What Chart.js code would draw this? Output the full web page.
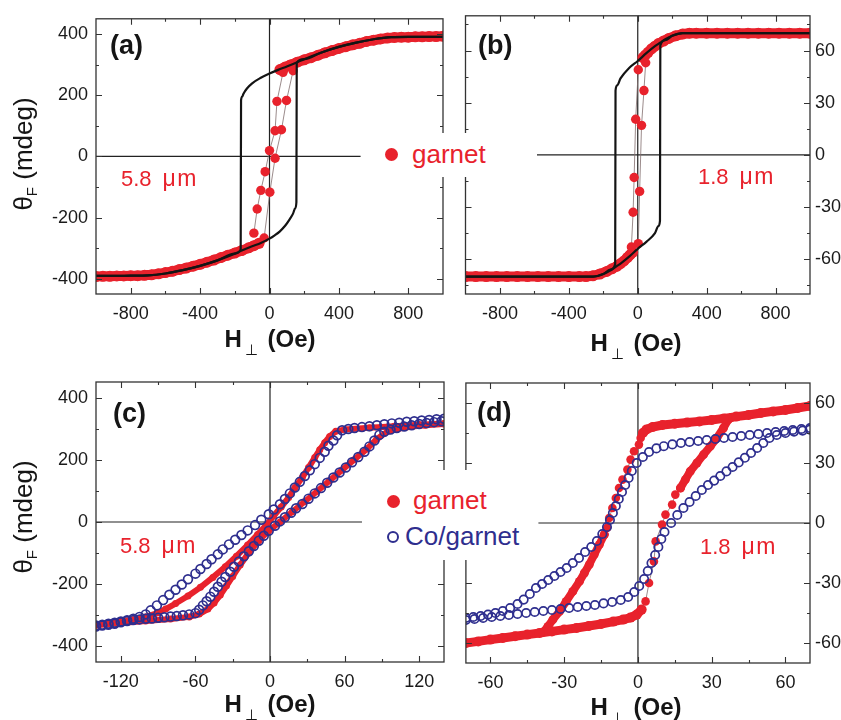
<!DOCTYPE html>
<html>
<head>
<meta charset="utf-8">
<script src="https://cdn.jsdelivr.net/npm/chart.js@4.4.1/dist/chart.umd.min.js"></script>
<style>
  body { margin: 0; background: #fff; font-family: "Liberation Sans", Arial, sans-serif; }
  #fig { position: relative; width: 841px; height: 720px; overflow: hidden; background: #fff; }
  #fig canvas { position: absolute; }
  .txt { position: absolute; line-height: 1; white-space: nowrap; }
  .plab { font-size: 27px; font-weight: bold; color: #151515; }
  .thk { font-size: 22px; color: #e8222c; }
  .thk span { font-size: 23px; letter-spacing: 1.5px; margin-left: 11px; }
  .xt { font-size: 24px; font-weight: bold; color: #151515; transform: translateX(-50%); }
  .xt sub { font-size: 15px; font-weight: normal; vertical-align: -8px; margin-left: 3px; margin-right: 3px; }
  .yt { font-size: 26px; color: #151515; transform: translate(-50%, -50%) rotate(-90deg); }
  .yt sub { font-size: 15px; vertical-align: -5px; }
  .legbox { position: absolute; background: #fff; }
  .leg { font-size: 26px; }
  .dot { position: absolute; border-radius: 50%; box-sizing: border-box; }
</style>
</head>
<body>
<div id="fig">
  <canvas id="ca" width="460" height="360" style="left:0;top:0"></canvas>
  <canvas id="cb" width="381" height="360" style="left:460px;top:0"></canvas>
  <canvas id="cc" width="460" height="360" style="left:0;top:360px"></canvas>
  <canvas id="cd" width="381" height="360" style="left:460px;top:360px"></canvas>

  <div class="txt plab" style="left:110px;top:32px">(a)</div>
  <div class="txt plab" style="left:478px;top:32px">(b)</div>
  <div class="txt plab" style="left:113px;top:400px">(c)</div>
  <div class="txt plab" style="left:477px;top:399px">(d)</div>

  <div class="txt thk" style="left:121px;top:167px">5.8<span>μm</span></div>
  <div class="txt thk" style="left:698px;top:165px">1.8<span>μm</span></div>
  <div class="txt thk" style="left:120px;top:534px">5.8<span>μm</span></div>
  <div class="txt thk" style="left:700px;top:535px">1.8<span>μm</span></div>

  <div class="txt xt" style="left:270px;top:327px">H<sub>⊥</sub> (Oe)</div>
  <div class="txt xt" style="left:636px;top:331px">H<sub>⊥</sub> (Oe)</div>
  <div class="txt xt" style="left:270px;top:692px">H<sub>⊥</sub> (Oe)</div>
  <div class="txt xt" style="left:636px;top:695px">H<sub>⊥</sub> (Oe)</div>

  <div class="txt yt" style="left:24px;top:154px">θ<sub>F</sub> (mdeg)</div>
  <div class="txt yt" style="left:24px;top:517px">θ<sub>F</sub> (mdeg)</div>

  <div class="legbox" style="left:378px;top:133px;width:112px;height:44px">
    <div class="dot" style="left:7px;top:15px;width:13px;height:13px;background:#e8222c"></div>
    <div class="txt leg" style="left:34px;top:8px;color:#e8222c">garnet</div>
  </div>
  <div class="legbox" style="left:376px;top:470px;width:158px;height:90px">
    <div class="dot" style="left:11px;top:25px;width:13px;height:13px;background:#e8222c"></div>
    <div class="txt leg" style="left:37px;top:17px;color:#e8222c">garnet</div>
    <div class="dot" style="left:11px;top:61px;width:12px;height:12px;border:2px solid #2e2e8e"></div>
    <div class="txt leg" style="left:29px;top:53px;color:#2e2e8e">Co/garnet</div>
  </div>
</div>

<script>
// ---- (a) garnet 5.8 um, wide field range ----
const aTicks = [-800, -400, 0, 400, 800];
const aMinor = [-600, -200, 200, 600];
const aYTicks = [-400, -200, 0, 200, 400];
const aYMinor = [-300, -100, 100, 300];
// model loop (black), both branches listed with rising field
const aLoopUpH = [-1000, -900, -800, -700, -600, -500, -400, -300, -200, -160, -100, -50, 0, 30, 60, 90, 117, 135, 148, 155, 157, 200, 300, 400, 500, 600, 700, 800, 900, 1000];
const aLoopUpY = [-391, -391, -390, -389, -383, -372, -358, -340, -318, -308, -294, -283, -269, -258, -245, -227, -205, -188, -170, -150, 306, 318, 340, 358, 372, 383, 390, 391, 391, 391];
const aLoopDownH = [-1000, -900, -800, -700, -600, -500, -400, -300, -200, -166, -164, -158, -150, -130, -100, -50, 0, 50, 100, 160, 200, 300, 400, 500, 600, 700, 800, 900, 1000];
const aLoopDownY = [-391, -391, -390, -389, -383, -372, -358, -340, -318, -304, 183, 195, 205, 222, 239, 257, 271, 283, 294, 308, 318, 340, 358, 372, 383, 390, 391, 391, 391];
// measured points (red)
const aBandLowH = [-1000, -960, -920, -880, -840, -800, -760, -720, -680, -640, -600, -560, -520, -480, -440, -400, -360, -320, -280, -240, -200, -160, -120, -90, -60];
const aBandLowY = [-393, -392, -392, -391, -391, -390, -390, -389, -387, -384, -380, -376, -370, -365, -359, -353, -346, -339, -331, -323, -316, -308, -299, -292, -284];
const aBandHighH = [60, 90, 120, 160, 200, 240, 280, 320, 360, 400, 440, 480, 520, 560, 600, 640, 680, 720, 760, 800, 840, 880, 920, 960, 1000];
const aBandHighY = [284, 292, 299, 308, 316, 323, 331, 339, 346, 353, 359, 365, 370, 376, 380, 384, 387, 389, 390, 390, 391, 391, 392, 392, 393];
const aSwDownH = [-31, 2, 32, 69, 98, 136];
const aSwDownY = [-267, -117, -6, 87, 183, 280];
const aSwUpH = [-90, -71, -50, -25, 0, 32, 43, 78];
const aSwUpY = [-251, -172, -111, -50, 19, 84, 180, 275];
const aZeroH = [-1000, 525];

// ---- (b) garnet 1.8 um ----
const bYTicks = [-60, -30, 0, 30, 60];
const bYMinor = [-75, -45, -15, 15, 45, 75];
const bLoopUpH = [-1000, -600, -260, -200, -160, -130, -100, -50, 0, 50, 100, 120, 129, 131, 160, 200, 260, 600, 1000];
const bLoopUpY = [-70, -70, -70, -68.5, -66.5, -64.5, -62.5, -58.5, -54, -50, -45, -41, -38, 63, 66, 68.5, 70, 70, 70];
const bLoopDownH = [-1000, -600, -260, -200, -160, -131, -129, -120, -100, -50, 0, 50, 100, 130, 160, 200, 260, 600, 1000];
const bLoopDownY = [-70, -70, -70, -68.5, -66, -63, 37, 40, 44, 50, 54, 58.5, 62.5, 64.5, 66.5, 68.5, 70, 70, 70];
const bBandLowH = [-1000, -940, -880, -820, -760, -700, -640, -580, -520, -460, -400, -340, -300, -260, -220, -180, -150, -120, -100, -80, -60, -45, -30];
const bBandLowY = [-70, -70, -70, -70, -70, -70, -70, -70, -70, -70, -70, -70, -70, -69.5, -68.5, -67, -65.5, -64, -62.5, -61, -59, -57.5, -56];
const bBandHighH = [30, 45, 60, 80, 100, 120, 150, 180, 220, 260, 300, 340, 400, 460, 520, 580, 640, 700, 760, 820, 880, 940, 1000];
const bBandHighY = [56, 57.5, 59, 61, 62.5, 64, 65.5, 67, 68.5, 69.5, 70, 70, 70, 70, 70, 70, 70, 70, 70, 70, 70, 70, 70];
const bSwDownH = [-37, -27, -21, -12, 3];
const bSwDownY = [-53, -33, -13, 20.5, 49];
const bSwUpH = [3, 11, 22, 36, 46];
const bSwUpY = [-51, -21, 17, 37, 53];
const bZeroH = [-585, 1000];

// ---- (c) 5.8 um, garnet vs Co/garnet ----
const cTicks = [-120, -60, 0, 60, 120];
const cMinor = [-90, -30, 30, 90];
const cRedDownH = [-140, -120, -100, -90, -84, -76, -66, -56, -46, -36, -27, -18, -10, -3, 3, 9, 15, 20, 26, 31, 36, 40, 44, 48, 53, 60, 80, 100, 120, 140];
const cRedDownY = [-330, -320, -305, -292, -280, -262, -238, -210, -178, -144, -110, -74, -40, -10, 20, 48, 79, 110, 143, 175, 207, 232, 255, 275, 292, 297, 303, 308, 313, 317];
const cRedUpH = [-140, -120, -100, -80, -65, -57, -50, -45, -40, -35, -30, -24, -17, -9, -1, 8, 18, 28, 38, 48, 58, 68, 78, 86, 95, 110, 125, 140];
const cRedUpY = [-332, -325, -318, -312, -305, -296, -280, -260, -235, -205, -175, -138, -98, -60, -28, 0, 33, 66, 99, 133, 167, 201, 235, 267, 292, 305, 311, 315];
const cBlueDownH = [-140, -135, -130, -125, -120, -115, -110, -105, -100, -96, -91, -86, -81, -76, -71, -66, -60, -56, -51, -47, -42, -38, -33, -28, -23, -18, -12, -7, -1, 3, 8, 12, 16, 20, 24, 28, 32, 36, 40, 44, 47, 51, 54, 58, 63, 68, 74, 80, 86, 92, 98, 104, 110, 116, 122, 128, 134, 140];
const cBlueDownY = [-333, -330, -327, -324, -320, -316, -311, -305, -297, -284, -268, -251, -234, -218, -201, -184, -166, -151, -135, -120, -104, -88, -72, -57, -42, -27, -10, 7, 25, 40, 57, 74, 92, 111, 129, 148, 166, 186, 206, 226, 245, 262, 279, 295, 299, 302, 305, 308, 311, 314, 317, 319, 322, 324, 326, 328, 330, 332];
const cBlueUpH = [-140, -135, -130, -125, -120, -115, -110, -105, -100, -95, -90, -85, -80, -75, -70, -65, -60, -57, -54, -51, -48, -45, -42, -39, -36, -32, -29, -25, -21, -17, -13, -9, -5, -1, 4, 8, 12, 17, 21, 26, 31, 36, 41, 46, 51, 56, 61, 66, 71, 76, 80, 84, 88, 92, 97, 102, 108, 114, 120, 126, 132, 138];
const cBlueUpY = [-336, -333, -330, -327, -322, -318, -315, -313, -311, -310, -308, -306, -304, -302, -300, -297, -293, -282, -268, -255, -240, -224, -208, -192, -177, -160, -144, -127, -110, -94, -77, -60, -44, -28, -12, 2, 15, 30, 44, 58, 75, 92, 109, 126, 143, 159, 175, 192, 209, 226, 243, 262, 280, 290, 297, 302, 307, 311, 315, 318, 321, 324];
const cZeroH = [-140, 74];

// ---- (d) 1.8 um, garnet vs Co/garnet ----
const dTicks = [-60, -30, 0, 30, 60];
const dMinor = [-45, -15, 15, 45];
const dRedTopH = [70, 65, 60, 55, 50, 45, 40, 35, 30, 25, 20, 15, 10, 6, 3.5, 2];
const dRedTopY = [58.5, 57.5, 56.5, 55.8, 55, 54, 53.2, 52.3, 51.5, 50.8, 50.2, 49.6, 49, 48, 46.8, 45];
const dRedFallH = [1.1, 0.4, -1.6, -3, -4.3, -6.3, -7.7, -9, -10.4, -11.7, -12.6, -13.7];
const dRedFallY = [42.5, 39.2, 35.9, 31.7, 26.7, 21.7, 17.5, 12.5, 7.5, 2.5, -2.5, -5.8];
const dRedFallBandH = [-13.7, -15.7, -17.8, -19.8, -21.8, -23.8, -26.5, -29.2, -31.9, -34.6, -36.6, -38.5];
const dRedFallBandY = [-5.8, -10.8, -15.8, -20.8, -25, -29.2, -34.2, -39.2, -44.2, -48.3, -51.7, -54.5];
const dRedBottomH = [-70, -65, -60, -55, -50, -45, -40, -35, -30, -25, -20, -15, -10, -6, -3, -0.5, 1.5];
const dRedBottomY = [-60, -59.2, -58.3, -57.5, -56.6, -55.8, -55, -54.2, -53.3, -52.5, -51.5, -50.5, -49.3, -48.3, -47.3, -45.8, -43.3];
const dRedRiseH = [1.5, 3.1, 4.5, 6.5, 7.2, 9.8, 11.2, 13.9, 15.2, 17.3];
const dRedRiseY = [-43.3, -39.2, -30, -19.2, -9.2, -0.8, 4.2, 9.2, 14.2, 17.5];
const dRedRiseBandH = [17.3, 19.3, 21.3, 24, 26.7, 29.4, 32.1, 34.8, 36.8, 38];
const dRedRiseBandY = [17.5, 21.7, 25.9, 30, 34.2, 38.3, 42.5, 47.5, 51.7, 52.7];
const dBlueDownH = [70, 66.5, 63, 59.5, 56, 52.5, 49, 45.5, 42, 38.5, 35, 31.5, 28, 24.5, 21, 17.5, 14, 10.5, 7.5, 4.5, 2, -0.5, -2.5, -3.8, -5.2, -6.5, -7.8, -9, -10.2, -11.4, -12.6, -14.5, -16.7, -19, -21.5, -24, -26.5, -29, -31.5, -34, -36.5, -39, -41.5, -44, -46.5, -49, -52, -55, -58, -61, -64, -67, -70];
const dBlueDownY = [47.5, 47, 46.5, 46, 45.5, 45, 44.5, 44, 43.5, 43, 42.5, 42, 41.5, 41, 40.5, 40, 39.3, 38.4, 37.3, 35.5, 33, 30, 26, 22.5, 19, 15.5, 12, 8.5, 5, 1.5, -2, -5.5, -9, -12, -14.5, -17.5, -20, -22.5, -24.5, -26.5, -28.5, -30.5, -32.5, -35.5, -38.3, -40.5, -42.5, -44, -45, -45.8, -46.5, -47, -47.5];
const dBlueUpH = [-70, -66.5, -63, -59.5, -56, -52.5, -49, -45.5, -42, -38.5, -35, -31.5, -28, -24.5, -21, -17.5, -14, -10.5, -7, -4, -1.5, 0.5, 2.5, 4, 5.5, 7, 8.3, 9.5, 10.8, 13.5, 16, 18.5, 21, 23.5, 26, 28.5, 31, 33.5, 36, 38.5, 41, 43.5, 46, 48.5, 51, 53.5, 56.5, 60, 63.5, 67, 70];
const dBlueUpY = [-48.5, -48, -47.5, -47, -46.5, -46, -45.5, -45, -44.5, -44, -43.5, -43, -42.5, -42, -41.5, -41, -40.2, -39.5, -38.5, -37, -34.5, -31.5, -28, -24, -20, -16, -12, -8, -4.5, 0, 4, 7.5, 10.5, 13.5, 16.5, 19, 21.2, 23.5, 25.8, 28, 30.3, 32.6, 35, 37.5, 40, 42.5, 44, 45, 45.7, 46.2, 46.7];
const dZeroH = [-40.5, 70];

const RED = '#e8222c';
const BLUE = '#2e2e8e';
const BLACK = '#141414';
const FONT = '"Liberation Sans", Arial, sans-serif';

const pts = (hs, ys) => hs.map((h, i) => ({ x: h, y: ys[i] }));

// box with inward ticks on all four sides
const framePlugin = {
  id: 'frame',
  afterDatasetsDraw(chart, args, o) {
    const { ctx, chartArea: a } = chart;
    const sx = chart.scales.x, sy = chart.scales.y;
    ctx.save();
    ctx.strokeStyle = '#333';
    ctx.lineWidth = 1.3;
    ctx.strokeRect(a.left, a.top, a.right - a.left, a.bottom - a.top);
    ctx.lineWidth = 1.1;
    ctx.beginPath();
    const xt = (vals, len) => vals.forEach(v => {
      const p = Math.round(sx.getPixelForValue(v)) + 0.5;
      ctx.moveTo(p, a.bottom); ctx.lineTo(p, a.bottom - len);
      ctx.moveTo(p, a.top); ctx.lineTo(p, a.top + len);
    });
    const yt = (vals, len) => vals.forEach(v => {
      const p = Math.round(sy.getPixelForValue(v)) + 0.5;
      ctx.moveTo(a.left, p); ctx.lineTo(a.left + len, p);
      ctx.moveTo(a.right, p); ctx.lineTo(a.right - len, p);
    });
    xt(o.xMajor, 6); xt(o.xMinor, 3);
    yt(o.yMajor, 6); yt(o.yMinor, 3);
    ctx.stroke();
    ctx.restore();
  }
};

function zeroLines(hs, ymin, ymax) {
  const common = { showLine: true, pointRadius: 0, borderColor: '#222', borderWidth: 1.2, order: 20 };
  return [
    Object.assign({ data: pts(hs, [0, 0]) }, common),
    Object.assign({ data: pts([0, 0], [ymin, ymax]) }, common)
  ];
}
function band(hs, ys, width, order) {
  return { data: pts(hs, ys), showLine: true, borderColor: RED, borderWidth: width,
    borderCapStyle: 'round', borderJoinStyle: 'round', pointRadius: width / 2 + 0.5,
    pointBackgroundColor: RED, pointBorderWidth: 0, order: order };
}
function dots(hs, ys, r, order) {
  return { data: pts(hs, ys), showLine: true, borderColor: 'rgba(130,110,110,0.8)', borderWidth: 1,
    pointRadius: r, pointBackgroundColor: RED, pointBorderWidth: 0, order: order };
}
function loop(hs, ys) {
  return { data: pts(hs, ys), showLine: true, borderColor: BLACK, borderWidth: 2.2,
    cubicInterpolationMode: 'monotone', pointRadius: 0, order: 1 };
}
function rings(hs, ys, r) {
  return { data: pts(hs, ys), showLine: false, pointRadius: r, pointBorderWidth: 1.7,
    pointBorderColor: BLUE, pointBackgroundColor: 'rgba(255,255,255,0)', order: 2 };
}

function makePanel(id, o) {
  const tickFont = { family: FONT, size: 18 };
  return new Chart(document.getElementById(id), {
    type: 'scatter',
    data: { datasets: o.datasets },
    options: {
      responsive: false,
      animation: false,
      devicePixelRatio: 1,
      layout: { padding: o.pad },
      plugins: {
        legend: { display: false },
        tooltip: { enabled: false },
        frame: { xMajor: o.xTicks, xMinor: o.xMinor, yMajor: o.yTicks, yMinor: o.yMinor }
      },
      scales: {
        x: {
          type: 'linear', min: o.xmin, max: o.xmax,
          grid: { display: false, drawTicks: false }, border: { display: false },
          ticks: { font: tickFont, color: '#1a1a1a', padding: 9, callback: v => String(v) },
          afterBuildTicks: ax => { ax.ticks = o.xTicks.map(v => ({ value: v })); },
          afterFit: ax => { ax.height = o.xh; }
        },
        y: {
          type: 'linear', min: o.ymin, max: o.ymax, position: o.ypos,
          grid: { display: false, drawTicks: false }, border: { display: false },
          ticks: { font: tickFont, color: '#1a1a1a', padding: o.ypos === 'left' ? 8 : 5, callback: v => String(v) },
          afterBuildTicks: ax => { ax.ticks = o.yTicks.map(v => ({ value: v })); },
          afterFit: ax => { ax.width = o.yw; }
        }
      }
    },
    plugins: [framePlugin]
  });
}

makePanel('ca', {
  xmin: -1000, xmax: 1000, ymin: -450, ymax: 450, ypos: 'left', yw: 96, xh: 66,
  pad: { top: 14, right: 17, left: 0, bottom: 0 },
  xTicks: aTicks, xMinor: aMinor, yTicks: aYTicks, yMinor: aYMinor,
  datasets: [
    ...zeroLines(aZeroH, -450, 450),
    band(aBandLowH, aBandLowY, 10, 5),
    band(aBandHighH, aBandHighY, 10, 5),
    dots(aSwDownH, aSwDownY, 4.7, 4),
    dots(aSwUpH, aSwUpY, 4.7, 4),
    loop(aLoopUpH, aLoopUpY),
    loop(aLoopDownH, aLoopDownY)
  ]
});

makePanel('cb', {
  xmin: -1000, xmax: 1000, ymin: -80, ymax: 80, ypos: 'right', yw: 31, xh: 66,
  pad: { top: 14, right: 0, left: 2, bottom: 0 },
  xTicks: aTicks, xMinor: aMinor, yTicks: bYTicks, yMinor: bYMinor,
  datasets: [
    ...zeroLines(bZeroH, -80, 80),
    band(bBandLowH, bBandLowY, 10, 5),
    band(bBandHighH, bBandHighY, 10, 5),
    dots(bSwDownH, bSwDownY, 4.7, 4),
    dots(bSwUpH, bSwUpY, 4.7, 4),
    loop(bLoopUpH, bLoopUpY),
    loop(bLoopDownH, bLoopDownY)
  ]
});

makePanel('cc', {
  xmin: -140, xmax: 140, ymin: -450, ymax: 450, ypos: 'left', yw: 96, xh: 58,
  pad: { top: 22, right: 16, left: 0, bottom: 0 },
  xTicks: cTicks, xMinor: cMinor, yTicks: aYTicks, yMinor: aYMinor,
  datasets: [
    ...zeroLines(cZeroH, -450, 450),
    band(cRedDownH, cRedDownY, 6, 5),
    band(cRedUpH, cRedUpY, 6, 5),
    rings(cBlueDownH, cBlueDownY, 4.4),
    rings(cBlueUpH, cBlueUpY, 4.4)
  ]
});

makePanel('cd', {
  xmin: -70, xmax: 70, ymin: -70, ymax: 70, ypos: 'right', yw: 31, xh: 57,
  pad: { top: 23, right: 0, left: 3, bottom: 0 },
  xTicks: dTicks, xMinor: dMinor, yTicks: bYTicks, yMinor: dMinor,
  datasets: [
    ...zeroLines(dZeroH, -70, 70),
    band(dRedTopH, dRedTopY, 9, 5),
    band(dRedBottomH, dRedBottomY, 9, 5),
    band(dRedFallBandH, dRedFallBandY, 8, 5),
    band(dRedRiseBandH, dRedRiseBandY, 8, 5),
    dots(dRedFallH, dRedFallY, 4.3, 4),
    dots(dRedRiseH, dRedRiseY, 4.3, 4),
    rings(dBlueDownH, dBlueDownY, 4.2),
    rings(dBlueUpH, dBlueUpY, 4.2)
  ]
});
</script>
</body>
</html>
